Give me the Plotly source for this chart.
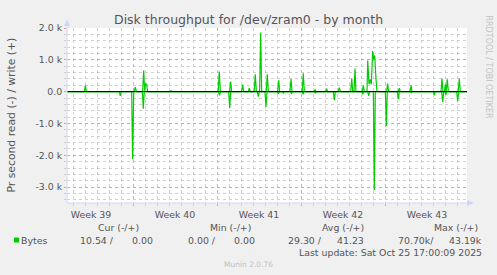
import plotly.graph_objects as go

# ---------------- data (x in days from left edge of graph, 2-hour samples) ----------------
write_day = [0, 1.45, 1.53, 1.62, 5.6, 5.69, 5.78, 6.3, 6.39, 6.47, 6.55, 6.64, 6.72,
             8.58, 8.67, 8.75, 12.6, 12.69, 12.78, 13.55, 13.64, 13.72, 14.55, 14.64, 14.72,
             15.1, 15.19, 15.28, 15.6, 15.69, 15.78, 16.05, 16.14, 16.22, 16.6, 16.69, 16.78,
             17.55, 17.64, 17.72, 18.58, 18.67, 18.75, 19.6, 19.69, 19.78, 20.58, 20.67, 20.75,
             21.55, 21.64, 21.72, 22.6, 22.69, 22.78, 23.64, 23.73, 23.81, 23.92, 24.0, 24.08,
             24.6, 24.69, 24.78, 25.0, 25.06, 25.17, 25.28, 25.36, 25.47, 25.56, 25.64, 25.75, 25.83,
             26.64, 26.72, 26.8, 27.6, 27.69, 27.78, 28.58, 28.67, 28.75,
             31.17, 31.25, 31.33, 31.45, 31.53, 31.6, 31.69, 31.78, 32.6, 32.69, 32.78, 33.33]
write_val = [0, 0, 200, 0, 0, 145, 0, 0, 660, 30, 250, 230, 0,
             0, 30, 0, 0, 630, 0, 0, 320, 0, 0, 220, 0,
             0, 105, 0, 0, 545, 0, 0, 1855, 0, 0, 545, 0,
             0, 356, 0, 0, 398, 0, 0, 576, 0, 0, 63, 0,
             0, 94, 0, 0, 126, 0, 0, 409, 0, 0, 723, 0,
             0, 199, 0, 0, 975, 230, 387, 230, 1277, 1016, 1141, 400, 0,
             0, 250, 0, 0, 105, 0, 0, 199, 0,
             0, 409, 0, 0, 230, 0, 388, 0, 0, 409, 0, 0]

read_day = [0, 4.36, 4.44, 4.53, 5.39, 5.47, 5.56, 6.28, 6.36, 6.44, 12.63, 12.71, 12.8,
            13.47, 13.56, 13.64, 15.86, 15.94, 16.03, 16.5, 16.58, 16.67, 17.52, 17.6, 17.69,
            17.95, 18.03, 18.11, 18.62, 18.7, 18.78, 19.59, 19.67, 19.75, 20.62, 20.7, 20.78,
            22.19, 22.28, 22.36, 24.56, 24.64, 24.72, 25.06, 25.14, 25.22, 25.53, 25.61, 25.69,
            26.53, 26.61, 26.69, 27.53, 27.61, 27.69, 28.62, 28.7, 28.78, 30.53, 30.61, 30.69,
            31.22, 31.31, 31.39, 31.5, 31.57, 31.65, 32.47, 32.56, 32.64, 33.33]
read_val = [0, 0, -136, 0, 0, -2120, 0, 0, -540, 0, 0, -120, 0,
            0, -510, 0, 0, -157, 0, 0, -480, 0, 0, -63, 0,
            0, -40, 0, 0, -50, 0, 0, -84, 0, 0, -40, 0,
            0, -265, 0, 0, -84, 0, 0, -136, 0, 0, -3092, 0,
            0, -1080, 0, 0, -241, 0, 0, -30, 0, 0, -105, 0,
            0, -320, 0, 0, -100, 0, 0, -300, 0, 0]

week_labels = ["Week 39", "Week 40", "Week 41", "Week 42", "Week 43"]
week_centers = [2, 9, 16, 23, 30]
y_tickvals = [2000, 1000, 0, -1000, -2000, -3000]
y_ticktext = ["2.0 k", "1.0 k", "0.0", "-1.0 k", "-2.0 k", "-3.0 k"]

series_name = "Bytes"
cur_vals = [10.54, 0.00]
min_vals = [0.00, 0.00]
avg_vals = [29.30, 41.23]
max_vals = [70700, 43190]
last_update = "Last update: Sat Oct 25 17:00:09 2025"
title = "Disk throughput for /dev/zram0 - by month"
y_title = "Pr second read (-) / write (+)"

# ---------------- layout constants ----------------
W, H = 497, 275
L, R, T, B = 67, 30, 28, 72
PW, PH = W - L - R, H - T - B
FONT = "DejaVu Sans"
TXT = "#555555"
GREEN = "#00CC00"
MGRID = "rgba(235,140,140,0.8)"
GRID = "rgba(190,190,190,0.7)"
AXIS = "#CFD6F8"
XR = [0, 400 / 12]


def fx(px):
    return (px - L) / PW


def fy(py):
    return (H - B - py) / PH


fig = go.Figure()
fig.add_trace(go.Scatter(x=write_day, y=write_val, mode="lines", name="write",
                         line=dict(color=GREEN, width=1.2), xaxis="x", yaxis="y",
                         showlegend=False))
fig.add_trace(go.Scatter(x=read_day, y=read_val, mode="lines", name="read",
                         line=dict(color=GREEN, width=1.2), xaxis="x2", yaxis="y",
                         showlegend=False))

ann = []


def text(s, x, y, xa="left", ya="middle", size=9.4, color=TXT, angle=0):
    ann.append(dict(text=s, x=fx(x), y=fy(y), xref="paper", yref="paper",
                    xanchor=xa, yanchor=ya, showarrow=False, borderpad=0,
                    textangle=angle, font=dict(family=FONT, size=size, color=color)))


text(title, 248.5, 19, xa="center", size=12.5)
text(y_title, 11, 115.5, xa="center", size=10.8, angle=-90)
text("RRDTOOL / TOBI OETIKER", 488.5, 67, xa="center", size=8, color="#C4C4C4", angle=90)

# legend block
text("Cur (-/+)", 140, 227.5, xa="right")
text("Min (-/+)", 252, 227.5, xa="right")
text("Avg (-/+)", 365, 227.5, xa="right")
text("Max (-/+)", 479, 227.5, xa="right")
text(series_name, 20, 240)
text(f"{cur_vals[0]:.2f} /", 114.5, 240, xa="right")
text(f"{cur_vals[1]:.2f}", 153.5, 240, xa="right")
text(f"{min_vals[0]:.2f} /", 217, 240, xa="right")
text(f"{min_vals[1]:.2f}", 256, 240, xa="right")
text(f"{avg_vals[0]:.2f} /", 323, 240, xa="right")
text(f"{avg_vals[1]:.2f}", 365, 240, xa="right")
text(f"{max_vals[0]/1000:.2f}k/", 434.5, 240, xa="right")
text(f"{max_vals[1]/1000:.2f}k", 482.5, 240, xa="right")
text(last_update, 482.5, 252, xa="right")
text("Munin 2.0.76", 248.5, 264, xa="center", size=7.5, color="#C0C0C0")

shapes = [
    # zero rule
    dict(type="line", xref="paper", yref="y", x0=0, x1=1, y0=0, y1=0,
         line=dict(color="black", width=1), layer="above"),
    # legend colour box
    dict(type="rect", xref="paper", yref="paper", x0=fx(14), x1=fx(19), y0=fy(242.5), y1=fy(237.5),
         fillcolor=GREEN, line=dict(width=0)),
    # axis extensions and arrows
    dict(type="line", xref="paper", yref="paper", x0=fx(67), x1=fx(67), y0=fy(203), y1=fy(24),
         line=dict(color=AXIS, width=1)),
    dict(type="path", xref="paper", yref="paper",
         path=f"M {fx(67)} {fy(19)} L {fx(64)} {fy(26)} L {fx(70)} {fy(26)} Z",
         fillcolor=AXIS, line=dict(width=0)),
    dict(type="line", xref="paper", yref="paper", x0=fx(67), x1=fx(470), y0=fy(203), y1=fy(203),
         line=dict(color=AXIS, width=1)),
    dict(type="path", xref="paper", yref="paper",
         path=f"M {fx(474)} {fy(203)} L {fx(467)} {fy(200)} L {fx(467)} {fy(206)} Z",
         fillcolor=AXIS, line=dict(width=0)),
]

fig.update_layout(
    width=W, height=H, autosize=False,
    margin=dict(l=L, r=R, t=T, b=B, pad=0),
    paper_bgcolor="#F0F0F0", plot_bgcolor="white",
    font=dict(family=FONT, size=9.4, color=TXT),
    xaxis=dict(range=XR, tickmode="linear", tick0=5.5, dtick=7, showticklabels=False,
               showgrid=True, gridcolor=MGRID, griddash="dot", gridwidth=1,
               zeroline=False, showline=False, ticks="outside", ticklen=2, tickcolor=MGRID,
               minor=dict(tickmode="linear", tick0=0.5, dtick=1, showgrid=True, gridcolor=GRID,
                          griddash="dot", gridwidth=1, ticks="outside", ticklen=2, tickcolor=GRID),
               fixedrange=True),
    xaxis2=dict(range=XR, overlaying="x", anchor="y", side="bottom",
                tickmode="array", tickvals=week_centers, ticktext=week_labels,
                showgrid=False, zeroline=False, showline=False,
                ticks="outside", ticklen=3, tickcolor="rgba(0,0,0,0)",
                tickfont=dict(family=FONT, size=9.4, color=TXT), fixedrange=True),
    yaxis=dict(range=[-3500, 2000], tickmode="array", tickvals=y_tickvals, ticktext=y_ticktext,
               showgrid=True, gridcolor=MGRID, griddash="dot", gridwidth=1,
               zeroline=False, showline=False, ticks="outside", ticklen=2, tickcolor=MGRID,
               tickfont=dict(family=FONT, size=9.4, color=TXT),
               minor=dict(tickmode="linear", tick0=0, dtick=200, showgrid=True, gridcolor=GRID,
                          griddash="dot", gridwidth=1, ticks="outside", ticklen=2, tickcolor=GRID),
               fixedrange=True),
    annotations=ann, shapes=shapes, showlegend=False,
)

fig.write_html("out.html")
